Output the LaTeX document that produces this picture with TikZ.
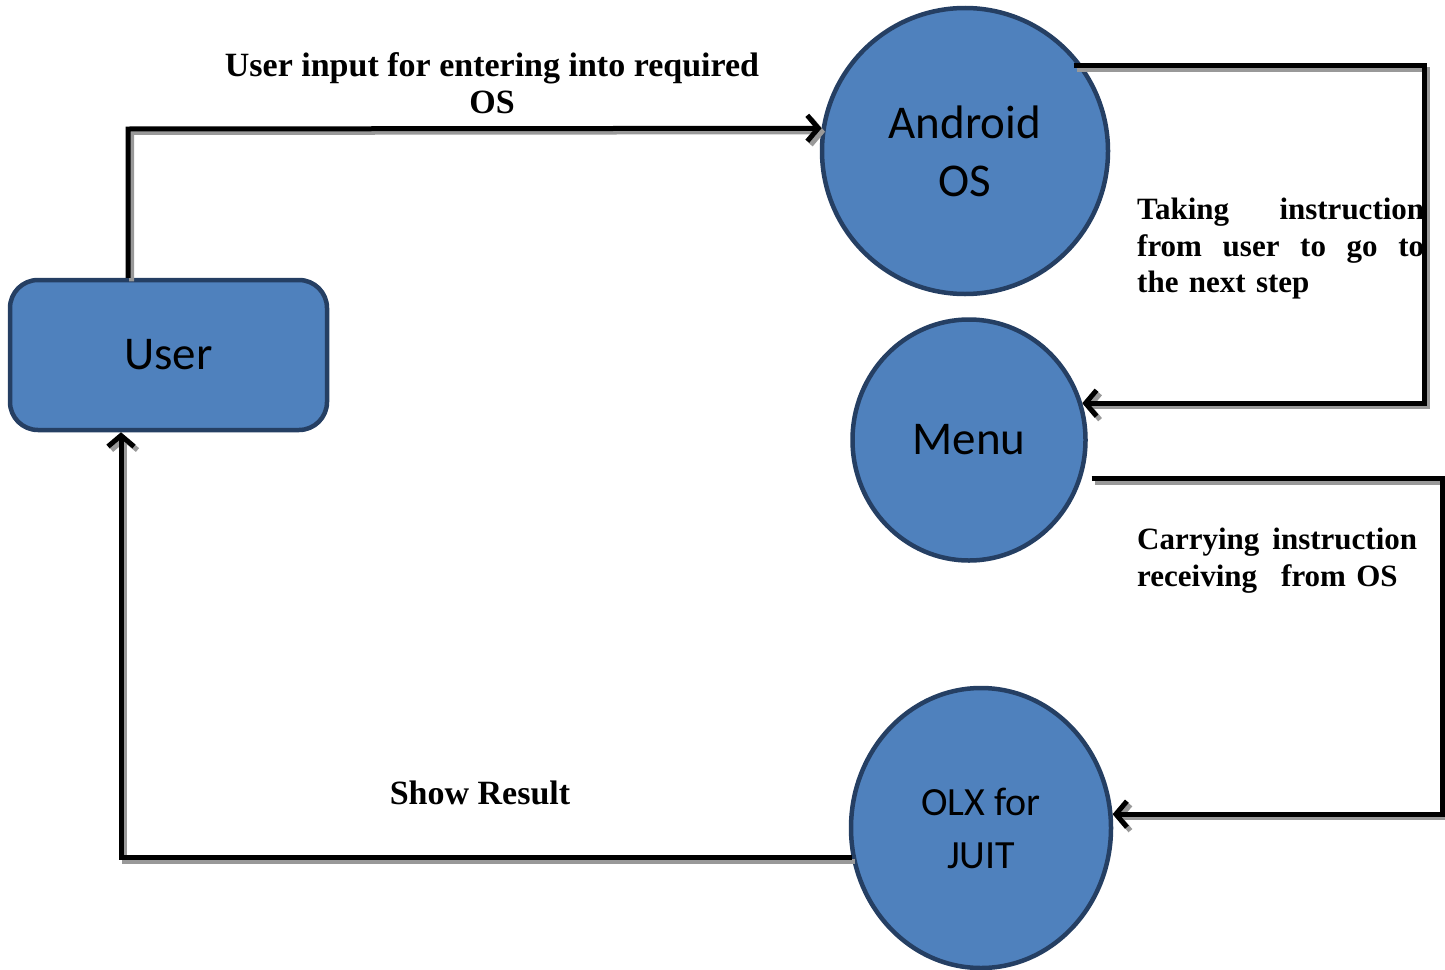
\documentclass[tikz,border=0pt]{standalone}
\usepackage{fontspec}
\setmainfont{Liberation Serif}
\newfontfamily\calfont{Carlito}
\usetikzlibrary{arrows.meta,shapes.geometric,calc}
\definecolor{boxfill}{HTML}{4F81BD}
\definecolor{boxline}{HTML}{253F63}
\definecolor{shadowgray}{HTML}{999999}
\begin{document}
\begin{tikzpicture}[x=1pt,y=-1pt,
  blob/.style={fill=boxfill, draw=boxline, line width=4.5pt, align=center,
    font=\calfont\fontsize{47}{58}\selectfont},
  conn/.style={line width=5pt, -{Straight Barb[length=11pt,width=26pt]}},
  shad/.style={shadowgray, transform canvas={xshift=3.5pt,yshift=-3.5pt}},
  lab/.style={font=\bfseries\fontsize{34}{37}\selectfont, inner sep=0pt},
  sidelab/.style={font=\bfseries\fontsize{31}{36.5}\selectfont, inner sep=0pt,
    anchor=north west, text width=287pt, align=left}]
\useasboundingbox (0,0) rectangle (1445,969);

% nodes
\node[blob, rounded corners=28pt, minimum width=317pt, minimum height=150pt] (user) at (168.5,355) {User};
\node[blob, circle, minimum size=286pt] (android) at (965,151) {Android\\OS};
\node[blob, ellipse, minimum width=233pt, minimum height=241pt] (menu) at (969,440) {Menu};
\node[blob, ellipse, minimum width=260pt, minimum height=280pt,
      font=\calfont\fontsize{40}{53}\selectfont] (olx) at (981,828) {OLX for\\JUIT};

% bend points
\coordinate (tl) at (128,129);
\coordinate (tr1) at (1424,68);
\coordinate (tr2) at (1442,479);
\coordinate (bl) at (121,858);

% connectors (shadow first, then line)
\foreach \s in {shad,}{
  \draw[conn,\s] (user.north -| tl) -- (tl) -- (android.171);
  \draw[conn,\s] ($(android.36)+(-9,0)$) -- (android.36 -| tr1) -- (tr1 |- menu.18) -- (menu.18);
  \draw[conn,\s] ($(menu.-19)+(10,0)$) -- (menu.-19 -| tr2) -- (tr2 |- olx.6) -- (olx.6);
  \draw[conn,\s] (olx.193) -- (olx.193 -| bl) -- (user.south -| bl);
}

% labels
\node[lab, align=center] (l1) at (492,83) {User input for entering into required\\OS};
\node[sidelab] (l2) at (1137,198)
  {Taking\hfill instruction\\from\hfill user\hfill to\hfill go\hfill to\\the next step};
\node[sidelab] (l3) at (1137,528)
  {Carrying\hspace{13pt}instruction\\receiving\hspace{24pt}from OS};
\node[lab] (l4) at (480,793) {Show Result};
\end{tikzpicture}
\end{document}
